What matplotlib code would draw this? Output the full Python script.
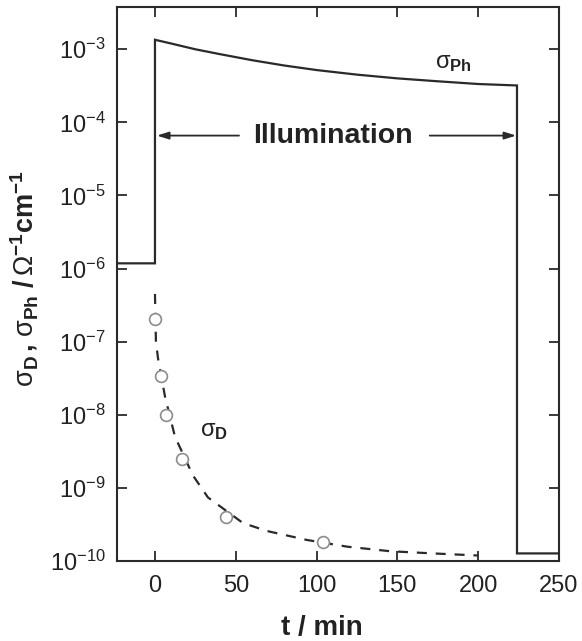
import matplotlib
matplotlib.use("Agg")
import matplotlib.pyplot as plt
from matplotlib.ticker import NullLocator, FixedLocator

plt.rcParams['font.family'] = ['Liberation Sans', 'DejaVu Sans']
plt.rcParams['mathtext.fontset'] = 'custom'
plt.rcParams['mathtext.rm'] = 'Liberation Sans'
plt.rcParams['mathtext.it'] = 'Liberation Sans:italic'
plt.rcParams['mathtext.bf'] = 'Liberation Sans:bold'

# Photoconductivity under illumination (step on at t=0, off at t=224 min)
ph_t = [-25, 0, 0, 10, 25, 40, 60, 80, 100, 125, 150, 175, 200, 224, 224, 250]
ph_sigma = [1.18e-6, 1.18e-6, 1.35e-3, 1.2e-3, 1.0e-3, 8.6e-4, 7.1e-4, 6.0e-4,
            5.2e-4, 4.5e-4, 4.0e-4, 3.65e-4, 3.35e-4, 3.2e-4, 1.27e-10, 1.27e-10]

# Dark conductivity measurements after switching off
d_t = [0, 3.7, 7, 17, 44, 104]
d_sigma = [2.05e-7, 3.4e-8, 1.0e-8, 2.45e-9, 4.0e-10, 1.8e-10]

# Fitted decay of the dark conductivity
fit_t = [0, 0.6, 1.9, 6.2, 12.4, 23.5, 32.8, 54.5, 69.4, 94, 119, 145.6, 172, 199.5]
fit_sigma = [4.5e-7, 1.0e-7, 5.9e-8, 1.78e-8, 5.0e-9, 1.48e-9, 7.4e-10, 3.3e-10,
             2.57e-10, 1.94e-10, 1.57e-10, 1.36e-10, 1.27e-10, 1.19e-10]

x_ticks = [0, 50, 100, 150, 200, 250]
y_ticks = [1e-10, 1e-9, 1e-8, 1e-7, 1e-6, 1e-5, 1e-4, 1e-3]

fig = plt.figure(figsize=(5.82, 6.41), dpi=100)
ax = fig.add_axes([0.201, 0.1248, 0.7595, 0.8635])

line_col = '#2a2a2a'
txt_col = '#222222'
ax.plot(ph_t, ph_sigma, color=line_col, lw=1.6, solid_joinstyle='miter')
ax.plot(fit_t, fit_sigma, color=line_col, lw=1.6, dashes=(4.5, 4))
ax.plot(d_t, d_sigma, linestyle='none', marker='o', ms=8.5, mfc='white',
        mec='#8c8c8c', mew=1.2)

ax.set_yscale('log')
ax.set_xlim(-23.5, 250)
ax.set_ylim(1e-10, 3.73e-3)
ax.xaxis.set_major_locator(FixedLocator(x_ticks))
ax.yaxis.set_major_locator(FixedLocator(y_ticks))
ax.xaxis.set_minor_locator(NullLocator())
ax.yaxis.set_minor_locator(NullLocator())
ax.set_xticklabels([str(v) for v in x_ticks])
ax.set_yticklabels([r'$\mathdefault{10^{%d}}$' % e for e in range(-10, -2)])

ax.tick_params(which='major', direction='in', length=7, width=1.3,
               top=True, right=True, labelsize=17, color=line_col,
               labelcolor=txt_col, pad=8)
ax.tick_params(axis='x', pad=10)
for s in ax.spines.values():
    s.set_linewidth(1.5)
    s.set_color(line_col)

ax.set_xlabel('t / min', fontsize=20, fontweight='bold', color=txt_col)
ax.xaxis.set_label_coords(0.463, -0.097)
ax.set_ylabel(r'$\mathrm{\sigma}_{\mathbf{D}}\,\mathbf{,}\ \mathrm{\sigma}_{\mathbf{Ph}}'
              r'\ \mathbf{/}\,\Omega^{\mathbf{-1}}\mathbf{cm}^{\mathbf{-1}}$',
              fontsize=19.5, color=txt_col)
ax.yaxis.set_label_coords(-0.175, 0.51)

# Labels for the two curves
ax.text(173, 4.6e-4, r'$\mathrm{\sigma}_{\mathbf{Ph}}$', fontsize=17,
        color=txt_col, ha='left', va='bottom')
ax.text(28, 4.2e-9, r'$\mathrm{\sigma}_{\mathbf{D}}$', fontsize=17,
        color=txt_col, ha='left', va='bottom')

# Illumination interval
arr_y = 6.6e-5
ax.text(110, arr_y, 'Illumination', fontsize=20.5, fontweight='bold',
        color=txt_col, ha='center', va='center')
arrow_kw = dict(arrowstyle='-|>,head_length=0.7,head_width=0.22',
                color=line_col, lw=1.3, shrinkA=0, shrinkB=0)
ax.annotate('', xy=(1.2, arr_y), xytext=(52, arr_y), arrowprops=arrow_kw)
ax.annotate('', xy=(223.5, arr_y), xytext=(170, arr_y), arrowprops=arrow_kw)

fig.savefig('out.png', dpi=100)
